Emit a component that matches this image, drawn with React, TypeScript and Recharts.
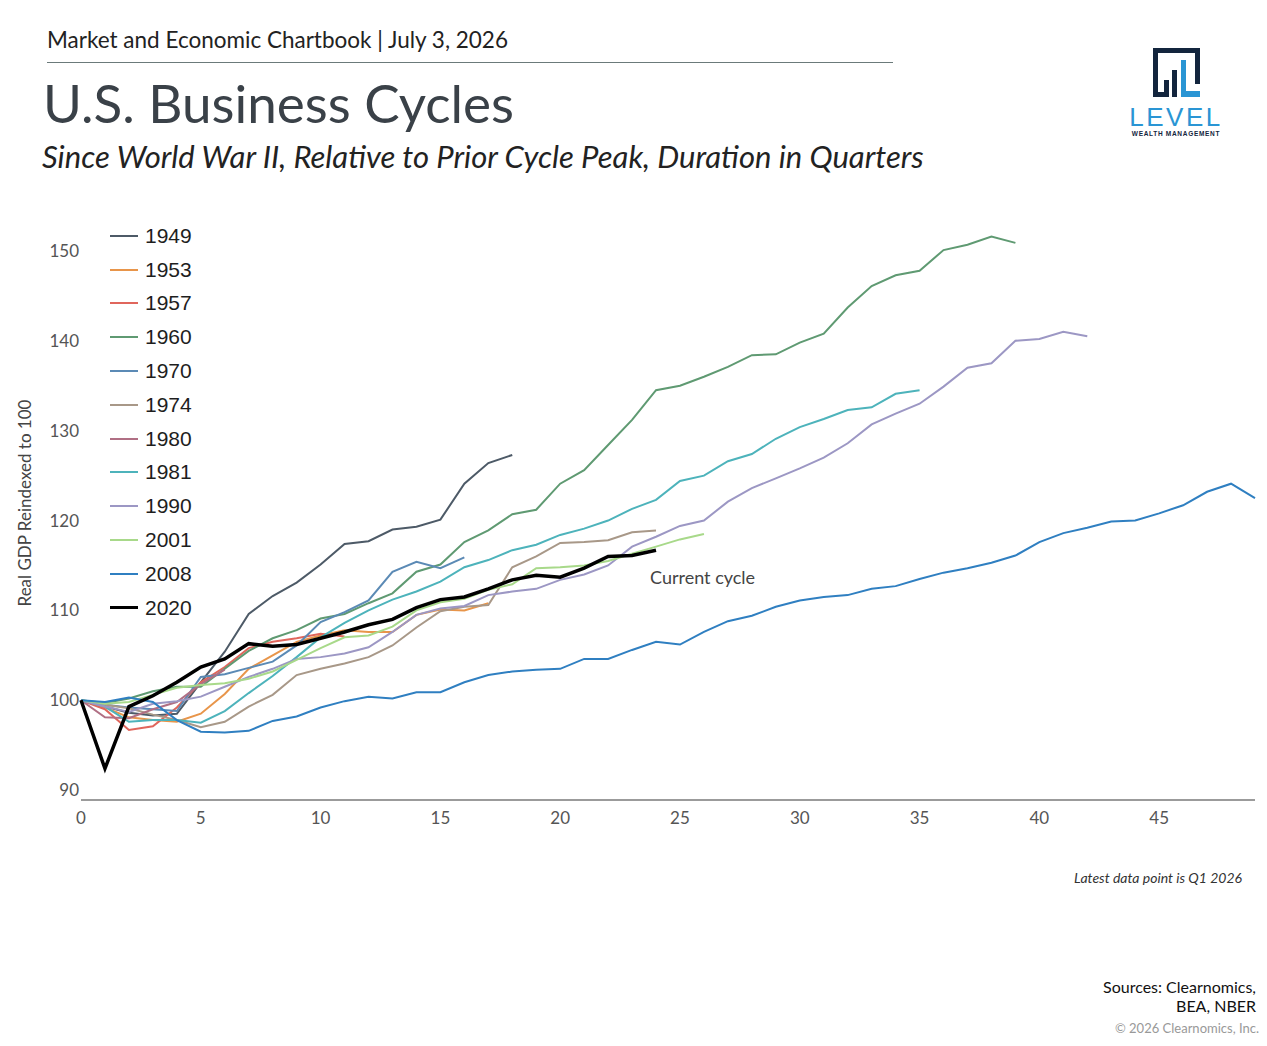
import React from "react"
import { LineChart, Line, XAxis, YAxis } from "recharts"

// Real GDP relative to prior cycle peak (=100), by quarter since peak
const quarters = Array.from({ length: 50 }, (_, i) => i)

const gdp1949 = [100, 99.3, 98.6, 98.3, 98.5, 102.0, 105.4, 109.6, 111.6, 113.1, 115.1, 117.4, 117.7, 119.0, 119.3, 120.1, 124.1, 126.4, 127.3]
const gdp1953 = [100, 99.2, 98.1, 97.8, 97.6, 98.5, 100.7, 103.5, 105.0, 106.5, 107.2, 107.8, 107.6, 107.6, 109.5, 110.1, 110.0, 110.8]
const gdp1957 = [100, 99.0, 96.7, 97.1, 99.2, 102.0, 103.7, 105.8, 106.5, 106.9, 107.4, 107.1]
const gdp1960 = [100, 99.7, 100.2, 101.0, 101.5, 101.5, 103.5, 105.5, 106.9, 107.8, 109.1, 109.6, 110.8, 111.9, 114.3, 115.1, 117.6, 118.9, 120.7, 121.2, 124.1, 125.6, 128.4, 131.2, 134.5, 135.0, 136.0, 137.1, 138.4, 138.5, 139.8, 140.8, 143.7, 146.1, 147.3, 147.8, 150.1, 150.7, 151.6, 150.9]
const gdp1970 = [100, 99.5, 99.2, 99.0, 98.8, 102.6, 102.9, 103.6, 104.3, 106.1, 108.7, 109.8, 111.1, 114.3, 115.4, 114.7, 115.9]
const gdp1974 = [100, 99.5, 99.1, 98.4, 97.8, 97.0, 97.6, 99.3, 100.6, 102.8, 103.5, 104.1, 104.8, 106.1, 108.1, 109.9, 110.4, 110.6, 114.8, 116.0, 117.5, 117.6, 117.8, 118.7, 118.9]
const gdp1980 = [100, 98.1, 98.0, 99.0, 99.8, 101.8, 103.4]
const gdp1981 = [100, 99.3, 97.6, 97.8, 97.8, 97.5, 98.8, 100.8, 102.7, 104.8, 107.0, 108.6, 110.0, 111.2, 112.1, 113.2, 114.8, 115.6, 116.7, 117.3, 118.4, 119.1, 120.0, 121.3, 122.3, 124.4, 125.0, 126.6, 127.4, 129.1, 130.4, 131.3, 132.3, 132.6, 134.1, 134.5]
const gdp1990 = [100, 99.3, 98.7, 99.6, 99.9, 100.4, 101.5, 102.6, 103.5, 104.6, 104.8, 105.2, 105.9, 107.6, 109.5, 110.2, 110.5, 111.7, 112.1, 112.4, 113.4, 114.0, 115.0, 117.1, 118.2, 119.4, 120.0, 122.1, 123.6, 124.7, 125.8, 127.0, 128.6, 130.7, 131.9, 133.0, 134.9, 137.0, 137.5, 140.0, 140.2, 141.0, 140.5]
const gdp2001 = [100, 99.6, 99.8, 100.6, 101.4, 101.7, 101.9, 102.4, 103.2, 104.5, 105.8, 107.0, 107.2, 108.2, 110.0, 110.9, 111.3, 112.3, 112.9, 114.7, 114.8, 115.0, 115.5, 116.3, 117.1, 117.9, 118.5]
const gdp2008 = [100, 99.8, 100.3, 99.8, 97.8, 96.5, 96.4, 96.6, 97.7, 98.2, 99.2, 99.9, 100.4, 100.2, 100.9, 100.9, 102.0, 102.8, 103.2, 103.4, 103.5, 104.6, 104.6, 105.6, 106.5, 106.2, 107.6, 108.8, 109.4, 110.4, 111.1, 111.5, 111.7, 112.4, 112.7, 113.5, 114.2, 114.7, 115.3, 116.1, 117.6, 118.6, 119.2, 119.9, 120.0, 120.8, 121.7, 123.2, 124.1, 122.5]
const gdp2020 = [100, 92.4, 99.3, 100.5, 102.0, 103.7, 104.6, 106.3, 106.0, 106.2, 106.9, 107.6, 108.4, 109.0, 110.3, 111.2, 111.5, 112.4, 113.4, 113.9, 113.7, 114.7, 116.0, 116.1, 116.7]

const cycles = [
  { name: "1949", values: gdp1949, color: "#4d5a67" },
  { name: "1953", values: gdp1953, color: "#e8954a" },
  { name: "1957", values: gdp1957, color: "#e0665c" },
  { name: "1960", values: gdp1960, color: "#5f9a72" },
  { name: "1970", values: gdp1970, color: "#5b8ab5" },
  { name: "1974", values: gdp1974, color: "#a89888" },
  { name: "1980", values: gdp1980, color: "#b06f84" },
  { name: "1981", values: gdp1981, color: "#4db3bb" },
  { name: "1990", values: gdp1990, color: "#9c97c4" },
  { name: "2001", values: gdp2001, color: "#a8d98a" },
  { name: "2008", values: gdp2008, color: "#2f7fc1" },
  { name: "2020", values: gdp2020, color: "#000000" },
]

const xTicks = [0, 5, 10, 15, 20, 25, 30, 35, 40, 45]
const yTicks = [90, 100, 110, 120, 130, 140, 150]

const rows = quarters.map((q) => {
  const row: Record<string, number | undefined> = { q }
  cycles.forEach((c) => {
    row[c.name] = c.values[q]
  })
  return row
})

const sans = "Lato, 'Open Sans', sans-serif"

// legend drawn by hand so it floats over the plot instead of taking space
function CycleLegend() {
  return (
    <div
      style={{
        position: "absolute",
        left: 110,
        top: 219,
        fontFamily: "'Liberation Sans', Arial, sans-serif",
      }}
    >
      {cycles.map((c) => (
        <div
          key={c.name}
          style={{ display: "flex", alignItems: "center", height: 33.8 }}
        >
          <div
            style={{
              width: 28,
              height: c.name === "2020" ? 3 : 2,
              background: c.color,
              marginRight: 7,
            }}
          />
          <span style={{ fontSize: 21, color: "#1e1e1e" }}>{c.name}</span>
        </div>
      ))}
    </div>
  )
}

function Logo() {
  return (
    <svg
      width={120}
      height={100}
      style={{ position: "absolute", left: 1115, top: 42 }}
    >
      <path
        d="M38 6 H85 V42 H80 V11 H43 V50 H49 V38 H54 V55 H38 Z"
        fill="#13253d"
      />
      <rect x={57} y={28} width={5} height={27} fill="#13253d" />
      <path d="M66 18 H71 V49 H85 V55 H66 Z" fill="#2a95d4" />
      <text
        x={61}
        y={84}
        textAnchor="middle"
        fontFamily="'Liberation Sans', Arial, sans-serif"
        fontSize={26}
        letterSpacing={2.5}
        fill="#2a95d4"
      >
        LEVEL
      </text>
      <text
        x={61}
        y={94}
        textAnchor="middle"
        fontFamily="'Liberation Sans', Arial, sans-serif"
        fontSize={6.5}
        fontWeight="bold"
        letterSpacing={0.7}
        fill="#13253d"
      >
        WEALTH MANAGEMENT
      </text>
    </svg>
  )
}

export default function App() {
  return (
    <div
      style={{
        position: "absolute",
        left: 0,
        top: 0,
        width: 1267,
        height: 1046,
        background: "#ffffff",
        fontFamily: sans,
        overflow: "hidden",
      }}
    >
      <div
        style={{
          position: "absolute",
          left: 47,
          top: 29,
          fontSize: 22.5,
          color: "#222",
          lineHeight: 1,
        }}
      >
        Market and Economic Chartbook | July 3, 2026
      </div>
      <div
        style={{
          position: "absolute",
          left: 47,
          top: 62,
          width: 846,
          height: 1,
          background: "#6b7a7a",
        }}
      />
      <div
        style={{
          position: "absolute",
          left: 43,
          top: 76,
          fontSize: 53,
          color: "#3a4148",
          lineHeight: 1,
        }}
      >
        U.S. Business Cycles
      </div>
      <div
        style={{
          position: "absolute",
          left: 42,
          top: 141,
          fontSize: 31,
          fontStyle: "italic",
          color: "#222",
          lineHeight: 1,
        }}
      >
        Since World War II, Relative to Prior Cycle Peak, Duration in Quarters
      </div>
      <Logo />

      <div
        style={{
          position: "absolute",
          left: 24,
          top: 503,
          transform: "translate(-50%, -50%) rotate(-90deg)",
          fontSize: 17,
          color: "#444",
          whiteSpace: "nowrap",
        }}
      >
        Real GDP Reindexed to 100
      </div>

      <div style={{ position: "absolute", left: 0, top: 0 }}>
        <LineChart
          width={1267}
          height={1046}
          data={rows}
          margin={{ top: 224, right: 12, bottom: 216, left: 0 }}
        >
          <XAxis
            dataKey="q"
            type="number"
            domain={[0, 49]}
            ticks={xTicks}
            height={30}
            tickLine={false}
            axisLine={{ stroke: "#7a7a7a", strokeWidth: 1.5 }}
            tick={{ fontSize: 17, fill: "#555", fontFamily: sans }}
            tickMargin={6}
          />
          <YAxis
            type="number"
            domain={[88.9, 153]}
            ticks={yTicks}
            width={81}
            axisLine={false}
            tickLine={false}
            tickSize={0}
            tickMargin={2}
            tick={{ fontSize: 17, fill: "#555", fontFamily: sans }}
          />
          {cycles.map((c) => (
            <Line
              key={c.name}
              dataKey={c.name}
              name={c.name}
              type="linear"
              stroke={c.color}
              strokeWidth={c.name === "2020" ? 3.5 : 2}
              dot={false}
              activeDot={false}
              isAnimationActive={false}
            />
          ))}
        </LineChart>
      </div>

      <CycleLegend />

      <div
        style={{
          position: "absolute",
          left: 650,
          top: 567,
          fontSize: 18,
          color: "#444",
          lineHeight: 1.2,
        }}
      >
        Current cycle
      </div>

      <div
        style={{
          position: "absolute",
          right: 25,
          top: 869,
          fontSize: 14,
          fontStyle: "italic",
          color: "#333",
        }}
      >
        Latest data point is Q1 2026
      </div>
      <div
        style={{
          position: "absolute",
          right: 11,
          top: 977,
          fontSize: 16,
          color: "#111",
          textAlign: "right",
          lineHeight: "19px",
        }}
      >
        Sources: Clearnomics,
        <br />
        BEA, NBER
      </div>
      <div
        style={{
          position: "absolute",
          right: 8,
          top: 1020,
          fontSize: 13,
          color: "#999",
        }}
      >
        © 2026 Clearnomics, Inc.
      </div>
    </div>
  )
}
